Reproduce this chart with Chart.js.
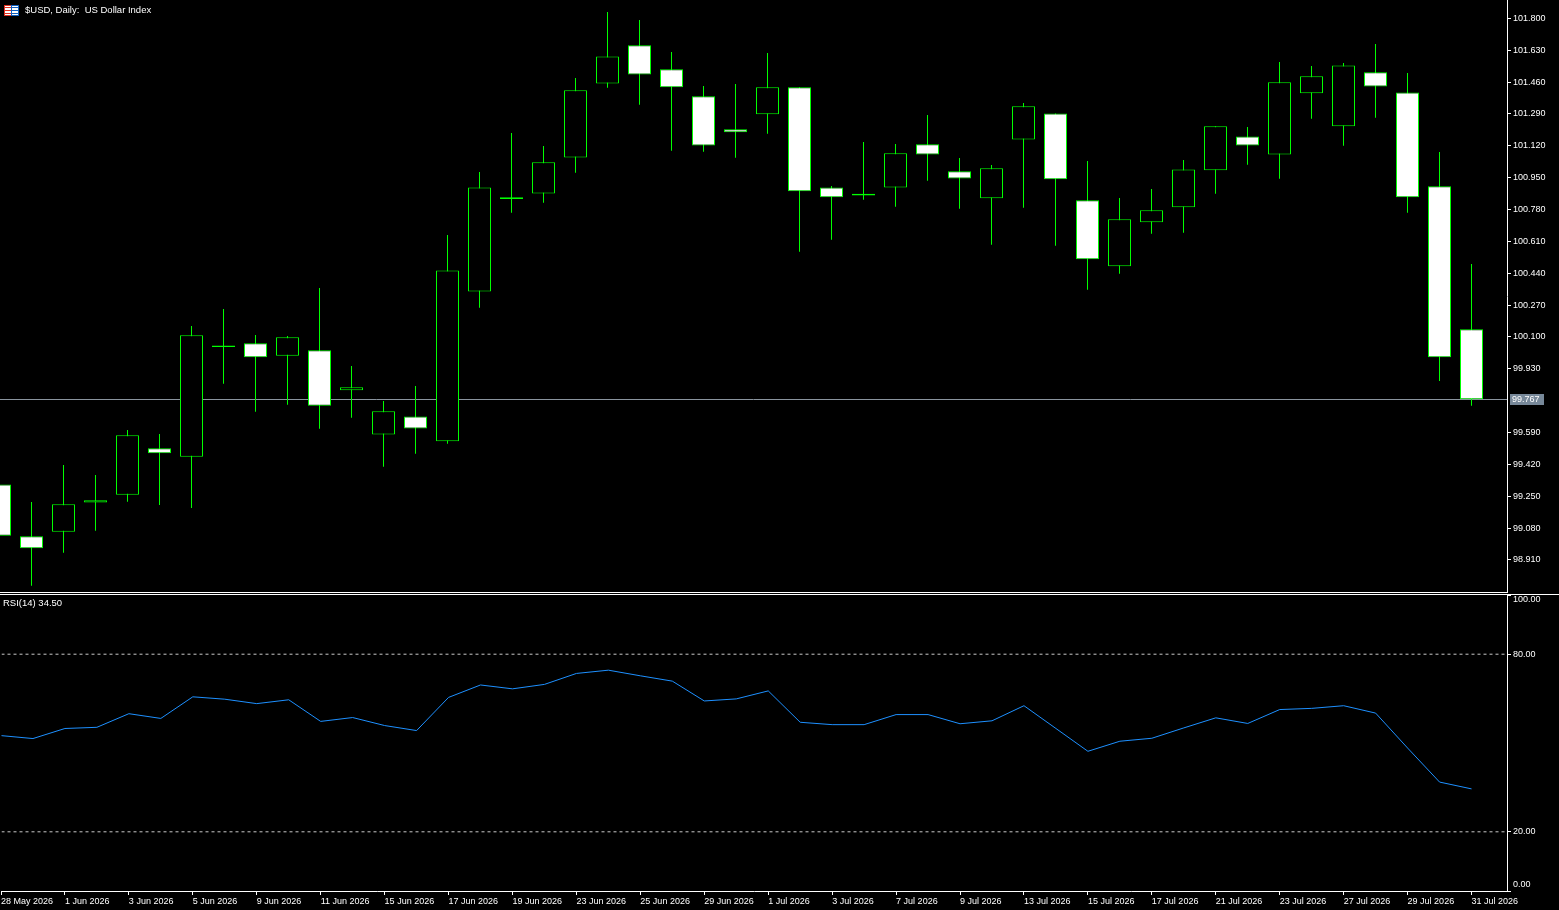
<!DOCTYPE html>
<html lang="en">
  <head>
    <meta charset="UTF-8" />
    <title>$USD, Daily: US Dollar Index</title>
    <script src="https://cdn.jsdelivr.net/npm/chart.js"></script>
    <style>
      html, body { margin: 0; padding: 0; background: #000; }
      #wrap { position: relative; width: 1559px; height: 910px; background: #000; overflow: hidden; }
      canvas { position: absolute; left: 0; }
      #main { top: 0; }
      #rsi { top: 595px; }
      .sep { position: absolute; left: 0; height: 1px; background: #fff; }
      .txt { position: absolute; color: #fff; font: 9.5px "Liberation Sans", Arial, sans-serif; white-space: pre; line-height: 12px; }
      #icon { position: absolute; left: 4px; top: 5px; width: 15px; height: 11px; }
      #icon div { position: absolute; top: 0; width: 6px; height: 9px; background: #fff; }
    </style>
  </head>
  <body>
    <div id="wrap">
      <canvas id="main" width="1559" height="592"></canvas>
      <canvas id="rsi" width="1559" height="315"></canvas>
      <div class="sep" style="top: 592px; width: 1508px"></div>
      <div class="sep" style="top: 594px; width: 1559px"></div>
      <div id="icon">
        <div style="left: 0; border: 1px solid #e03020; background: repeating-linear-gradient(#fff 0 1px, #e03020 1px 2px, #fff 2px 3px)"></div>
        <div style="left: 7px; border: 1px solid #1060c0; background: repeating-linear-gradient(#fff 0 1px, #1060c0 1px 2px, #fff 2px 3px)"></div>
      </div>
      <div class="txt" style="left: 25px; top: 4px">$USD, Daily:  US Dollar Index</div>
      <div class="txt" style="left: 3px; top: 597px">RSI(14) 34.50</div>
    </div>
    <script>
      // daily bars, 28 May 2026 .. 31 Jul 2026
      const dates = [
        "28 May 2026", "29 May 2026", "1 Jun 2026", "2 Jun 2026", "3 Jun 2026", "4 Jun 2026",
        "5 Jun 2026", "8 Jun 2026", "9 Jun 2026", "10 Jun 2026", "11 Jun 2026", "12 Jun 2026",
        "15 Jun 2026", "16 Jun 2026", "17 Jun 2026", "18 Jun 2026", "19 Jun 2026", "22 Jun 2026",
        "23 Jun 2026", "24 Jun 2026", "25 Jun 2026", "26 Jun 2026", "29 Jun 2026", "30 Jun 2026",
        "1 Jul 2026", "2 Jul 2026", "3 Jul 2026", "6 Jul 2026", "7 Jul 2026", "8 Jul 2026",
        "9 Jul 2026", "10 Jul 2026", "13 Jul 2026", "14 Jul 2026", "15 Jul 2026", "16 Jul 2026",
        "17 Jul 2026", "20 Jul 2026", "21 Jul 2026", "22 Jul 2026", "23 Jul 2026", "24 Jul 2026",
        "27 Jul 2026", "28 Jul 2026", "29 Jul 2026", "30 Jul 2026", "31 Jul 2026",
      ];
      const opens = [
        99.313, 99.036, 99.061, 99.217, 99.258, 99.506, 99.461, 100.046, 100.066, 100.0,
        100.029, 99.815, 99.58, 99.676, 99.543, 100.343, 100.836, 100.866, 101.058, 101.453,
        101.656, 101.528, 101.384, 101.208, 101.288, 101.432, 100.898, 100.855, 100.898, 101.128,
        100.984, 100.84, 101.154, 101.293, 100.829, 100.477, 100.712, 100.792, 100.989, 101.17,
        101.074, 101.4, 101.224, 101.512, 101.405, 100.904, 100.141,
      ];
      const highs = [
        99.347, 99.219, 99.417, 99.363, 99.603, 99.582, 100.158, 100.249, 100.11, 100.105,
        100.361, 99.945, 99.758, 99.838, 100.644, 100.98, 101.188, 101.119, 101.482, 101.834,
        101.791, 101.62, 101.439, 101.45, 101.615, 101.433, 100.905, 101.14, 101.129, 101.284,
        101.055, 101.017, 101.348, 101.293, 101.039, 100.841, 100.889, 101.044, 101.224, 101.22,
        101.567, 101.546, 101.562, 101.663, 101.508, 101.087, 100.489,
      ];
      const lows = [
        98.99, 98.772, 98.949, 99.066, 99.221, 99.203, 99.187, 99.85, 99.701, 99.738,
        99.61, 99.669, 99.407, 99.477, 99.53, 100.256, 100.763, 100.816, 100.976, 101.43,
        101.339, 101.094, 101.088, 101.056, 101.184, 100.555, 100.619, 100.832, 100.795, 100.934,
        100.784, 100.592, 100.789, 100.587, 100.352, 100.437, 100.651, 100.656, 100.864, 101.019,
        100.944, 101.264, 101.12, 101.27, 100.763, 99.865, 99.733,
      ];
      const closes = [
        99.039, 98.972, 99.207, 99.228, 99.575, 99.479, 100.109, 100.055, 99.991, 100.098,
        99.733, 99.831, 99.703, 99.612, 100.455, 100.898, 100.846, 101.032, 101.416, 101.597,
        101.501, 101.432, 101.122, 101.192, 101.432, 100.877, 100.845, 100.864, 101.08, 101.074,
        100.946, 101.0, 101.331, 100.941, 100.514, 100.728, 100.776, 100.994, 101.224, 101.122,
        101.459, 101.491, 101.549, 101.437, 100.845, 99.991, 99.767,
      ];
      const rsi = [
        52.5, 51.5, 54.9, 55.3, 59.9, 58.3, 65.6, 64.8, 63.3, 64.6,
        57.3, 58.6, 55.9, 54.2, 65.4, 69.6, 68.3, 69.8, 73.5, 74.6,
        72.7, 70.9, 64.2, 64.9, 67.6, 57.0, 56.2, 56.2, 59.6, 59.6,
        56.5, 57.5, 62.6, 54.9, 47.2, 50.6, 51.6, 55.1, 58.5, 56.6,
        61.3, 61.7, 62.6, 60.1, 48.3, 36.8, 34.5,
      ];
      const rsiLevels = [80, 20];
      const rsiTicks = [100, 80, 20, 0];
      const priceTicks = [
        101.8, 101.63, 101.46, 101.29, 101.12, 100.95, 100.78, 100.61, 100.44,
        100.27, 100.1, 99.93, 99.59, 99.42, 99.25, 99.08, 98.91,
      ];
      const dateTicks = dates.map((_, i) => i).filter((i) => i % 2 == 0);

      const priceMin = 98.739;
      const priceMax = 101.898;
      const xMin = 0.015625;
      const xMax = 47.109375;
      const font = { family: '"Liberation Sans", Arial, sans-serif', size: 9 };
      const lastClose = closes[closes.length - 1];

      // bid line under the candles, price tag on the axis
      const bidLine = {
        id: "bidLine",
        beforeDatasetsDraw(chart) {
          const { ctx, chartArea } = chart;
          const y = Math.round(chart.scales.y.getPixelForValue(lastClose)) + 0.5;
          ctx.save();
          ctx.strokeStyle = "#8a949e";
          ctx.lineWidth = 1;
          ctx.beginPath();
          ctx.moveTo(chartArea.left, y);
          ctx.lineTo(chartArea.right, y);
          ctx.stroke();
          ctx.restore();
        },
        afterDraw(chart) {
          const { ctx, chartArea } = chart;
          const y = Math.round(chart.scales.y.getPixelForValue(lastClose));
          ctx.save();
          ctx.fillStyle = "#778899";
          ctx.fillRect(chartArea.right + 3, y - 5, 34, 11);
          ctx.fillStyle = "#fff";
          ctx.font = font.size + "px " + font.family;
          ctx.textBaseline = "middle";
          ctx.fillText(lastClose.toFixed(3), chartArea.right + 5, y + 0.5);
          ctx.restore();
        },
      };

      // keep the plot area full height: no room reserved for end labels
      const noPad = (s) => {
        s.paddingTop = 0;
        s.paddingBottom = 0;
      };

      new Chart(document.getElementById("main"), {
        type: "bar",
        data: {
          datasets: [
            {
              label: "body",
              data: dates.map((d, i) => ({ x: i, y: [opens[i], closes[i]] })),
              backgroundColor: (c) => (c.raw && c.raw.y[1] < c.raw.y[0] ? "#ffffff" : "#000000"),
              borderColor: "#00ff00",
              borderWidth: 1,
              borderSkipped: false,
              inflateAmount: 0,
              barThickness: 23,
              grouped: false,
            },
            {
              label: "wick",
              data: dates.map((d, i) => ({ x: i, y: [lows[i], highs[i]] })),
              backgroundColor: "#00ff00",
              borderWidth: 0,
              inflateAmount: 0,
              barThickness: 1,
              grouped: false,
            },
          ],
        },
        options: {
          responsive: false,
          animation: false,
          layout: { padding: 0 },
          plugins: { legend: { display: false }, tooltip: { enabled: false } },
          scales: {
            x: { type: "linear", display: false, min: xMin, max: xMax, offset: false, grid: { offset: false } },
            y: {
              position: "right",
              min: priceMin,
              max: priceMax,
              beginAtZero: false,
              afterBuildTicks: (s) => {
                s.ticks = priceTicks.map((v) => ({ value: v }));
              },
              afterFit: (s) => {
                s.width = 52;
                noPad(s);
              },
              grid: { drawOnChartArea: false, drawTicks: true, tickLength: 4, tickColor: "#fff" },
              border: { display: true, color: "#fff", width: 1 },
              ticks: { color: "#fff", font: font, padding: 2, callback: (v) => Number(v).toFixed(3) },
            },
          },
        },
        plugins: [bidLine],
      });

      // RSI axis labels kept inside the pane, like the terminal does
      const rsiLabels = {
        id: "rsiLabels",
        afterDraw(chart) {
          const { ctx } = chart;
          const s = chart.scales.y;
          ctx.save();
          ctx.fillStyle = "#fff";
          ctx.font = font.size + "px " + font.family;
          ctx.textBaseline = "middle";
          for (const t of s.ticks) {
            let y = s.getPixelForValue(t.value);
            y = Math.min(Math.max(y, s.top + 5), s.bottom - 6);
            ctx.fillText(t.value.toFixed(2), s.left + 6, y);
          }
          ctx.restore();
        },
      };

      new Chart(document.getElementById("rsi"), {
        type: "line",
        data: {
          datasets: [
            {
              label: "RSI(14)",
              data: rsi.map((v, i) => ({ x: i, y: v })),
              borderColor: "#1e90ff",
              borderWidth: 1,
              pointRadius: 0,
              tension: 0,
            },
          ].concat(
            rsiLevels.map((lv) => ({
              label: "level " + lv,
              data: [
                { x: xMin, y: lv },
                { x: xMax, y: lv },
              ],
              borderColor: "#c8c8c8",
              borderWidth: 1,
              borderDash: [3, 3],
              pointRadius: 0,
            }))
          ),
        },
        options: {
          responsive: false,
          animation: false,
          layout: { padding: 0 },
          plugins: { legend: { display: false }, tooltip: { enabled: false } },
          scales: {
            x: {
              type: "linear",
              min: xMin,
              max: xMax,
              offset: false,
              afterBuildTicks: (s) => {
                s.ticks = dateTicks.map((v) => ({ value: v }));
              },
              afterFit: (s) => {
                s.height = 19;
              },
              grid: { drawOnChartArea: false, drawTicks: true, tickLength: 4, tickColor: "#fff" },
              border: { display: true, color: "#fff", width: 1 },
              ticks: {
                color: "#fff",
                font: font,
                align: "start",
                padding: 1,
                maxRotation: 0,
                autoSkip: false,
                callback: (v) => dates[v],
              },
            },
            y: {
              position: "right",
              min: 0,
              max: 100,
              afterBuildTicks: (s) => {
                s.ticks = rsiTicks.map((v) => ({ value: v }));
              },
              afterFit: (s) => {
                s.width = 52;
                noPad(s);
              },
              grid: { drawOnChartArea: false, drawTicks: true, tickLength: 4, tickColor: "#fff" },
              border: { display: true, color: "#fff", width: 1 },
              ticks: { display: false },
            },
          },
        },
        plugins: [rsiLabels],
      });
    </script>
  </body>
</html>
